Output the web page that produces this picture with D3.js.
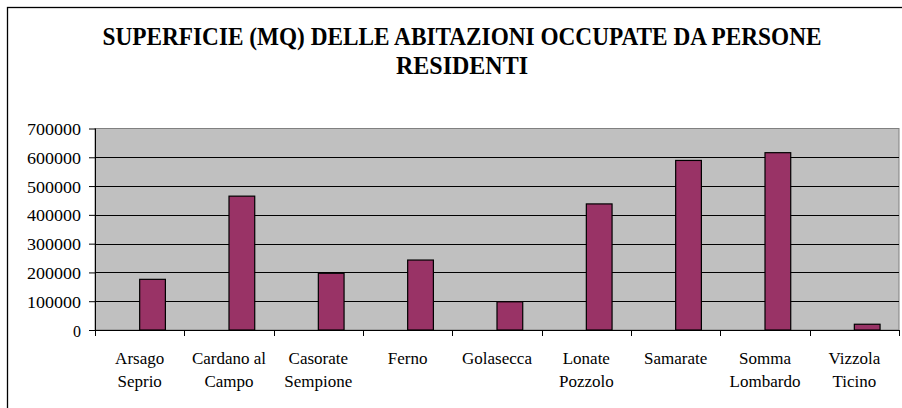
<!DOCTYPE html>
<html><head><meta charset="utf-8">
<script src="https://cdn.jsdelivr.net/npm/d3@7"></script>
<style>
html,body{margin:0;padding:0;background:#fff;}
svg{display:block;}
svg text{font-family:"Liberation Serif","Times New Roman",Tinos,serif !important;}
</style>
</head><body>
<svg id="chart" width="902" height="408"></svg>
<script>
const categories = [["Arsago","Seprio"],["Cardano al","Campo"],["Casorate","Sempione"],["Ferno"],["Golasecca"],["Lonate","Pozzolo"],["Samarate"],["Somma","Lombardo"],["Vizzola","Ticino"]];
const values = [176000, 465000, 197000, 243000, 98000, 438000, 589000, 616000, 20000];
const yTicks = [0,100000,200000,300000,400000,500000,600000,700000];
const titleLines = ["SUPERFICIE (MQ) DELLE ABITAZIONI OCCUPATE DA PERSONE","RESIDENTI"];

(function(){
const svg = d3.select("#chart");
const pL = 95, pR = 899, pT = 128.5, pB = 330;

// outer frame
svg.append("rect").attr("x",7.5).attr("y",7.5).attr("width",900).attr("height",410)
  .attr("fill","#fff").attr("stroke","#000").attr("stroke-width",1.3);

const names = categories.map(c => c.join(" "));
const x = d3.scaleBand().domain(names).range([pL, pR]).padding(0);
const y = d3.scaleLinear().domain([0, 700000]).range([pB, pT]);

// plot area
svg.append("rect").attr("x",pL).attr("y",pT).attr("width",pR-pL).attr("height",pB-pT)
  .attr("fill","#c0c0c0").attr("stroke","#808080").attr("stroke-width",1);

// gridlines
svg.append("g").selectAll("line").data(yTicks.filter(d=>d>0 && d<700000)).join("line")
  .attr("x1",pL).attr("x2",pR).attr("y1",d=>Math.round(y(d))+0.5).attr("y2",d=>Math.round(y(d))+0.5)
  .attr("stroke","#000").attr("stroke-width",1);

// bars (start at band centre, like an Excel chart with an empty first series)
const bw = x.bandwidth()*0.288;
svg.append("g").selectAll("rect").data(values).join("rect")
  .attr("x",(d,i)=>x(names[i])+x.bandwidth()/2)
  .attr("y",d=>y(d)).attr("width",bw).attr("height",d=>pB-y(d))
  .attr("fill","#993366").attr("stroke","#000").attr("stroke-width",1.2);

// y axis
const yAxis = d3.axisLeft(y).tickValues(yTicks).tickSize(6).tickPadding(8).tickFormat(d3.format("d"));
const gy = svg.append("g").attr("transform",`translate(${pL},0)`).call(yAxis);
gy.attr("font-family",null).attr("font-size",null);
gy.select(".domain").attr("stroke","#000").attr("d",`M0.5,${pT}V${pB}`);
gy.selectAll(".tick line").attr("stroke","#000");
gy.selectAll("text").style("font-size","16px").attr("fill","#000")
  .attr("dy",null).attr("y",6).attr("textLength",54).attr("lengthAdjust","spacingAndGlyphs");
gy.selectAll(".tick").filter(d=>d===0).select("text").attr("textLength",null);

// x axis
const xAxis = d3.axisBottom(x).tickSize(0).tickFormat("");
const gx = svg.append("g").attr("transform",`translate(0,${pB})`).call(xAxis);
gx.attr("font-family",null);
gx.select(".domain").attr("stroke","#000").attr("stroke-width",1.2).attr("d",`M${pL},0.5H${pR}`);
svg.append("g").selectAll("line").data(d3.range(names.length+1)).join("line")
  .attr("x1",i=>Math.round(pL + i*x.step())+0.5).attr("x2",i=>Math.round(pL + i*x.step())+0.5)
  .attr("y1",pB).attr("y2",pB+6).attr("stroke","#000");

const lbl = svg.append("g");
categories.forEach((c,i)=>{
  const cx = x(names[i])+x.bandwidth()/2;
  const t = lbl.append("text").attr("x",cx).attr("y",364)
    .attr("text-anchor","middle").style("font-size","17px").attr("fill","#000");
  c.forEach((line,j)=>t.append("tspan").attr("x",cx).attr("dy",j===0?0:23).text(line));
});

// title
const tW = [719, 132];
titleLines.forEach((t,i)=>{
  svg.append("text").attr("x",462).attr("y",45+i*29).attr("text-anchor","middle")
    .style("font-weight","bold").style("font-size","25px").attr("fill","#000")
    .attr("textLength",tW[i]).attr("lengthAdjust","spacingAndGlyphs").text(t);
});
})();
</script>
</body></html>
